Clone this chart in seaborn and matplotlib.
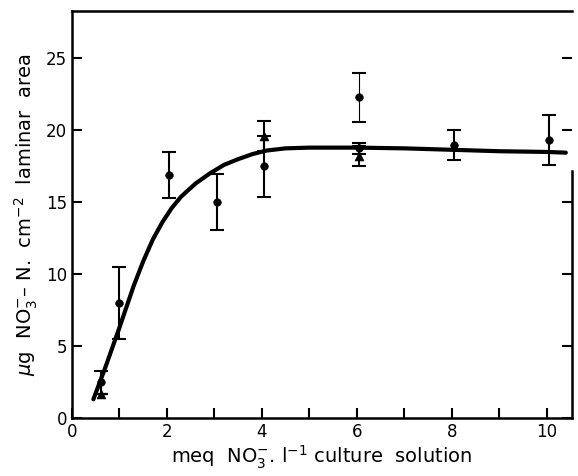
import numpy as np
import pandas as pd
import seaborn as sns
import matplotlib.pyplot as plt

# --- data ---
circ_x = [0.6, 1.0, 2.05, 3.05, 4.05, 6.05, 8.05, 10.05]
circ_y = [2.5, 8.0, 16.9, 15.05, 17.5, 18.75, 19.0, 19.35]
circ_err = [0.8, 2.5, 1.6, 1.95, 2.1, 0.4, 1.05, 1.75]

# high outlier at 6 meq (thin bar)
out_x = [6.05]
out_y = [22.3]
out_err = [1.72]

tri_x = [0.6, 4.05, 6.05]
tri_y = [1.7, 19.6, 18.2]
tri_err = [0.0, 1.05, 0.7]

curve_x = [0.45, 0.7, 1.0, 1.3, 1.5, 1.7, 1.9, 2.1, 2.3, 2.6, 2.9, 3.2, 3.5,
           3.8, 4.1, 4.5, 5.0, 6.0, 7.0, 8.0, 9.0, 10.0, 10.4]
curve_y = [1.3, 3.5, 6.3, 9.2, 10.9, 12.4, 13.6, 14.6, 15.4, 16.3, 17.0, 17.6, 18.0,
           18.35, 18.6, 18.75, 18.8, 18.8, 18.75, 18.65, 18.55, 18.5, 18.45]

sns.set_theme(style="ticks")
plt.rcParams['font.family'] = ['DejaVu Sans']

fig = plt.figure(figsize=(5.78, 4.76), dpi=100)
ax = fig.add_axes([0.1246, 0.1218, 0.8650, 0.8551])

df_curve = pd.DataFrame({"x": curve_x, "y": curve_y})
sns.lineplot(data=df_curve, x="x", y="y", ax=ax, color="black", lw=3, sort=False)

ax.errorbar(circ_x, circ_y, yerr=circ_err, fmt="none", ecolor="black",
            elinewidth=1.5, capsize=5, capthick=1.5)
ax.errorbar(tri_x, tri_y, yerr=tri_err, fmt="none", ecolor="black",
            elinewidth=1.5, capsize=5, capthick=1.5)
ax.errorbar(out_x, out_y, yerr=out_err, fmt="none", ecolor="black",
            elinewidth=0.8, capsize=5, capthick=1.5)

df_c = pd.DataFrame({"x": circ_x + out_x, "y": circ_y + out_y})
df_t = pd.DataFrame({"x": tri_x, "y": tri_y})
sns.scatterplot(data=df_c, x="x", y="y", ax=ax, color="black", marker="o",
                s=30, edgecolor="black", zorder=5)
sns.scatterplot(data=df_t, x="x", y="y", ax=ax, color="black", marker="^",
                s=40, edgecolor="black", zorder=5)

ax.set_xlim(0, 10.53)
ax.set_ylim(0, 28.3)
ax.set_xticks(np.arange(0, 11, 1))
ax.set_xticklabels(["0", "", "2", "", "4", "", "6", "", "8", "", "10"])
ax.set_yticks([0, 5, 10, 15, 20, 25])

ax.tick_params(axis="both", direction="in", length=7, width=1.5,
               labelsize=12, colors="black")
ax.tick_params(axis="y", right=True, left=True)
ax.tick_params(axis="x", top=False)

for side in ["left", "bottom", "top", "right"]:
    ax.spines[side].set_linewidth(1.8)
    ax.spines[side].set_color("black")
ax.spines["right"].set_bounds(0, 17.2)

ax.set_xlabel(r"meq  NO$_3^{-}$. l$^{-1}$ culture  solution", fontsize=14,
              labelpad=2, color="black")
ax.set_ylabel(r"$\mu$g  NO$_3^{-}$– N.  cm$^{-2}$  laminar  area", fontsize=14,
              labelpad=4, color="black")

fig.savefig("out.png", dpi=100)
